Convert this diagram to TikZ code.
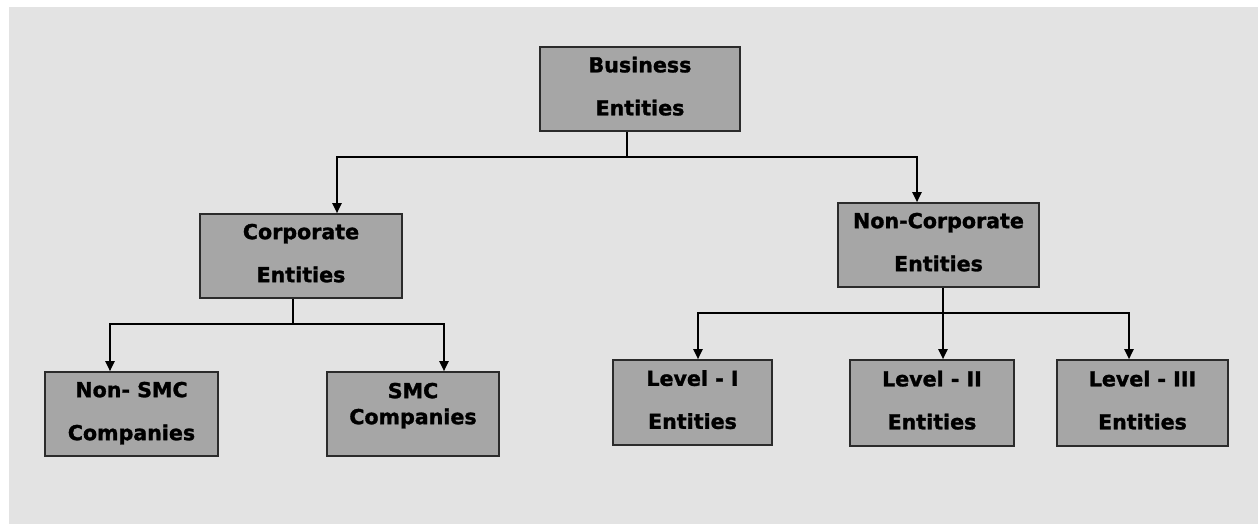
\documentclass[tikz,border=0pt]{standalone}
\usepackage{fontspec}
\setmainfont{DejaVu Sans}
\newfontfamily\heavyfont{DejaVu Sans Bold}[FakeBold=1.4]
\usetikzlibrary{arrows.meta}
\definecolor{canvas}{HTML}{E3E3E3}
\definecolor{boxfill}{HTML}{A6A6A6}
\definecolor{boxline}{HTML}{2B2B2B}
\begin{document}
\begin{tikzpicture}[x=1pt,y=-1pt,
  entity/.style={draw=boxline, line width=1.6pt, fill=boxfill, inner sep=0pt,
    align=center, font=\heavyfont\fontsize{20.6}{43}\selectfont, text depth=6pt},
  link/.style={line width=2pt, line join=miter},
  feed/.style={link, -{Triangle[width=9pt,length=10pt]}}]

% canvas with its thin white margin
\fill[white] (0,0) rectangle (1258,524);
\fill[canvas] (9,7) rectangle (1258,524);
\useasboundingbox (0,0) rectangle (1258,524);

% boxes
\node[entity, minimum width=200pt, minimum height=84pt] (bus) at (640,89) {Business\\Entities};
\node[entity, minimum width=202pt, minimum height=84pt] (corp) at (301,256) {Corporate\\Entities};
\node[entity, minimum width=201pt, minimum height=84pt] (nc) at (938.5,245) {Non-Corporate\\Entities};
\node[entity, minimum width=173pt, minimum height=84pt] (nsmc) at (131.5,414) {Non- SMC\\Companies};
\node[entity, minimum width=172pt, minimum height=84pt, font=\heavyfont\fontsize{20.6}{26}\selectfont, text depth=21pt] (smc) at (413,414) {SMC\\Companies};
\node[entity, minimum width=159pt, minimum height=85pt] (l1) at (692.5,402.5) {Level - I\\Entities};
\node[entity, minimum width=164pt, minimum height=86pt] (l2) at (932,403) {Level - II\\Entities};
\node[entity, minimum width=171pt, minimum height=86pt] (l3) at (1142.5,403) {Level - III\\Entities};

% ports on the box edges
\coordinate (busOut) at ([xshift=-13pt]bus.south);
\coordinate (corpIn) at ([xshift=36pt]corp.north);
\coordinate (ncIn) at ([xshift=-21.5pt]nc.north);
\coordinate (corpOut) at ([xshift=-8pt]corp.south);
\coordinate (nsmcIn) at ([xshift=-21.5pt]nsmc.north);
\coordinate (smcIn) at ([xshift=31pt]smc.north);
\coordinate (ncOut) at ([xshift=4.5pt]nc.south);
\coordinate (l1In) at ([xshift=5.5pt]l1.north);
\coordinate (l2In) at ([xshift=11pt]l2.north);
\coordinate (l3In) at ([xshift=-13.5pt]l3.north);

% branching points
\path (busOut) ++(0,25) coordinate (bj);
\path (corpOut) ++(0,25) coordinate (cj);
\path (ncOut) ++(0,25) coordinate (nj);

% connectors
\draw[link] (busOut) -- (bj);
\draw[feed] (bj) -| (corpIn);
\draw[feed] (bj) -| (ncIn);

\draw[link] (corpOut) -- (cj);
\draw[feed] (cj) -| (nsmcIn);
\draw[feed] (cj) -| (smcIn);

\draw[link] (ncOut) -- (nj);
\draw[feed] (nj) -| (l1In);
\draw[feed] (nj) -- (l2In);
\draw[feed] (nj) -| (l3In);
\end{tikzpicture}
\end{document}
